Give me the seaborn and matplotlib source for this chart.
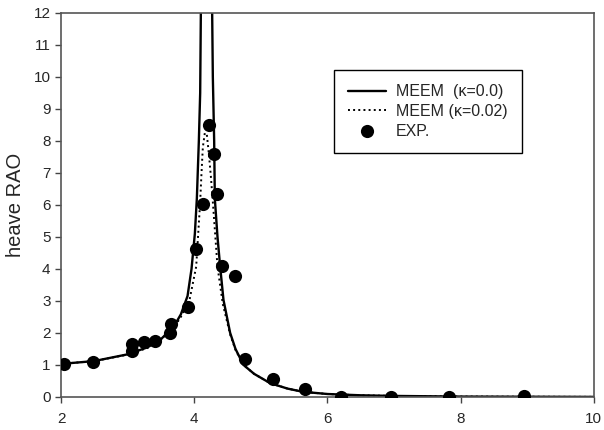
import numpy as np
import pandas as pd
import matplotlib
matplotlib.use("Agg")
import matplotlib.pyplot as plt
import seaborn as sns

# values
# MEEM (kappa=0.0): left branch goes off the top, right branch comes down from it
meem0_x = [2.0, 2.5, 3.0, 3.3, 3.5, 3.7, 3.8, 3.9, 3.96, 4.01, 4.04, 4.07, 4.09, 4.10, 4.115,
           4.255, 4.27, 4.28, 4.30, 4.31, 4.35, 4.39, 4.44, 4.54, 4.62, 4.74, 4.9, 5.14,
           5.4, 5.63, 6.0, 6.5, 7.0, 8.0, 9.0, 10.0]
meem0_y = [1.03, 1.12, 1.33, 1.55, 1.80, 2.22, 2.58, 3.15, 4.0, 5.1, 6.2, 8.0, 9.5, 12.0, 16.0,
           16.0, 12.0, 10.0, 8.0, 6.2, 5.0, 4.07, 3.03, 2.0, 1.5, 1.0, 0.72, 0.43,
           0.26, 0.16, 0.09, 0.05, 0.03, 0.01, 0.005, 0.0]

# MEEM (kappa=0.02): finite peak
meem2_x = [2.0, 2.5, 3.0, 3.3, 3.5, 3.7, 3.8, 3.93, 4.03, 4.09, 4.11, 4.13, 4.16, 4.19,
           4.22, 4.25, 4.28, 4.35, 4.43, 4.54, 4.62, 4.74, 4.9, 5.14, 5.4, 5.63, 6.0,
           6.5, 7.0, 8.0, 9.0, 10.0]
meem2_y = [1.03, 1.12, 1.32, 1.53, 1.78, 2.18, 2.5, 3.03, 4.07, 6.1, 7.0, 7.8, 8.25, 8.2,
           7.6, 6.9, 6.1, 4.07, 2.9, 1.95, 1.47, 1.0, 0.72, 0.43, 0.26, 0.16, 0.09,
           0.05, 0.03, 0.01, 0.005, 0.0]

# experiment
exp_x = [2.05, 2.48, 3.07, 3.07, 3.25, 3.41, 3.63, 3.65, 3.90, 4.03, 4.13, 4.22, 4.30,
         4.34, 4.42, 4.62, 4.76, 5.19, 5.66, 6.21, 6.95, 7.82, 8.95]
exp_y = [1.02, 1.10, 1.66, 1.44, 1.72, 1.76, 1.99, 2.28, 2.82, 4.62, 6.03, 8.49, 7.58,
         6.33, 4.09, 3.79, 1.19, 0.55, 0.24, 0.01, 0.01, 0.01, 0.04]

x_ticks = [2, 4, 6, 8, 10]
y_ticks = list(range(0, 13))

sns.set_style("ticks")
plt.rcParams["font.family"] = ["Liberation Sans", "DejaVu Sans"]

df0 = pd.DataFrame({"x": meem0_x, "y": meem0_y})
df2 = pd.DataFrame({"x": meem2_x, "y": meem2_y})
dfe = pd.DataFrame({"x": exp_x, "y": exp_y})

fig = plt.figure(figsize=(6.04, 4.30), dpi=100)
ax = fig.add_axes([0.101, 0.077, 0.882, 0.893])

sns.lineplot(data=df0, x="x", y="y", ax=ax, color="black", linewidth=1.7,
             sort=False, estimator=None, label="MEEM  (\u03ba=0.0)")
sns.lineplot(data=df2, x="x", y="y", ax=ax, color="black", linewidth=1.4,
             linestyle=":", sort=False, estimator=None, label="MEEM (\u03ba=0.02)")
sns.scatterplot(data=dfe, x="x", y="y", ax=ax, color="black", s=90,
                edgecolor="black", linewidth=0, label="EXP.", zorder=3)

ax.set_xlim(2, 10)
ax.set_ylim(0, 12)
ax.set_xticks(x_ticks)
ax.set_yticks(y_ticks)
ax.set_xlabel("")
ax.set_ylabel("heave RAO", fontsize=14.5, labelpad=6)
ax.tick_params(labelsize=11, direction="out", length=4, width=1, color="#444444")
ax.tick_params(axis="x", pad=7)
for sp in ax.spines.values():
    sp.set_visible(True)
    sp.set_color("#555555")
    sp.set_linewidth(1.2)

leg = ax.legend(loc="upper left", bbox_to_anchor=(0.512, 0.852), fontsize=11.5,
                frameon=True, fancybox=False, edgecolor="black", framealpha=1,
                handlelength=2.4, borderpad=0.9, labelspacing=0.3, handletextpad=0.6,
                borderaxespad=0)
leg.get_frame().set_linewidth(1.0)

fig.savefig("out.png", dpi=100)
